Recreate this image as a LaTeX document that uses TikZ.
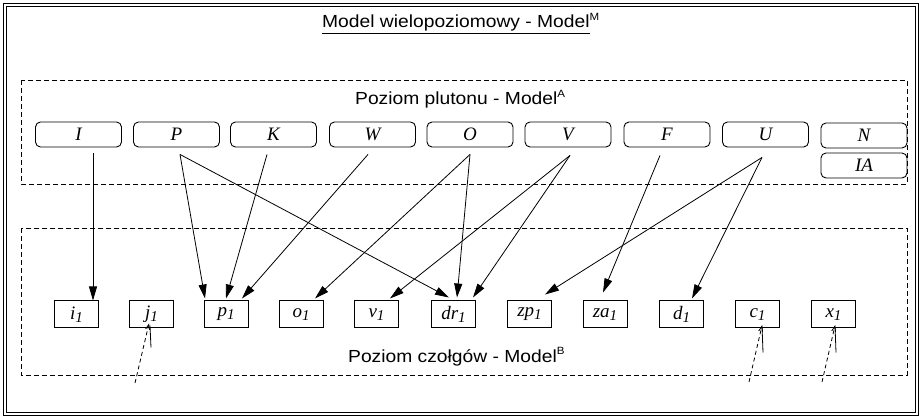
\documentclass[tikz,border=0pt]{standalone}
\usepackage{fontspec}
\setmainfont{Liberation Serif}
\newfontfamily\labelsans[FakeStretch=1.1]{Liberation Sans}
\usetikzlibrary{arrows.meta,calc}

% level/model captions and element labels
\newcommand\lvlsup[1]{\raisebox{7pt}{\fontsize{10.5}{10}\selectfont #1}}
\newcommand\lowone[1]{#1\raisebox{-2.5pt}{\fontsize{15}{15}\selectfont 1}}

\begin{document}
\begin{tikzpicture}[x=1pt,y=-1pt,
  topbox/.style={draw, rounded corners=5pt, minimum width=86pt, minimum height=25pt,
    inner sep=0pt, line width=0.9pt, font=\fontsize{19}{20}\selectfont\itshape},
  lowbox/.style={draw, minimum width=44pt, minimum height=27pt, inner sep=0pt,
    line width=1pt, font=\fontsize{19}{20}\selectfont\itshape},
  levelframe/.style={draw, dash pattern=on 5pt off 3pt, line width=0.9pt},
  caption/.style={inner sep=0pt, anchor=base west, font=\labelsans\fontsize{17.5}{20}\selectfont},
  arr/.style={-{Triangle[length=14pt,width=8pt]}, line width=0.8pt},
  ext/.style={dash pattern=on 4pt off 3pt, line width=0.8pt, -{Straight Barb[length=5pt,width=4pt]}},
  tick/.style={line width=0.8pt}]

\useasboundingbox (0,0) rectangle (923,419);

% outer frame of the multi-level model
\draw[double, double distance=1.6pt, line width=0.9pt] (5,5) rectangle (917,414);
\node[caption] (title) at (322,28) {\underline{Model wielopoziomowy - Model}\lvlsup{M}};

% platoon level
\draw[levelframe] (21,80) rectangle (907,184);
\node[caption] (lvlA) at (355,105) {Poziom plutonu - Model\lvlsup{A}};

\node[topbox] (I) at (78.5,134.5) {I};
\node[topbox] (P) at (176.5,134.5) {P};
\node[topbox] (K) at (273.5,134.5) {K};
\node[topbox] (W) at (372.5,134.5) {W};
\node[topbox] (O) at (470,134.5) {O};
\node[topbox] (V) at (568,134.5) {V};
\node[topbox] (F) at (667,134.5) {F};
\node[topbox] (U) at (765.5,134.5) {U};
\node[topbox] (N) at (864,135.5) {N};
\node[topbox] (IA) at (864,165.5) {IA};

% tank level
\draw[levelframe] (21,228) rectangle (907,375);
\node[caption] (lvlB) at (348,362) {Poziom czołgów - Model\lvlsup{B}};

\node[lowbox] (i1) at (76.5,314.5) {\lowone{i}};
\node[lowbox] (j1) at (151.5,314.5) {\lowone{j}};
\node[lowbox] (p1) at (226,314.5) {\lowone{p}};
\node[lowbox] (o1) at (301,314.5) {\lowone{o}};
\node[lowbox] (v1) at (376.5,314.5) {\lowone{v}};
\node[lowbox] (dr1) at (453.5,314.5) {\lowone{dr}};
\node[lowbox] (zp1) at (529.5,314.5) {\lowone{zp}};
\node[lowbox] (za1) at (605,314.5) {\lowone{za}};
\node[lowbox] (d1) at (681.5,314.5) {\lowone{d}};
\node[lowbox] (c1) at (757.5,314.5) {\lowone{c}};
\node[lowbox] (x1) at (833.5,314.5) {\lowone{x}};

% mappings from platoon elements to tank elements
\draw[arr] ($(I.south)+(14.5,6)$) -- ($(i1.north)+(16.5,0)$);
\draw[arr] ($(P.south)+(3.5,7)$) -- ($(p1.north)+(-21,-2)$);
\draw[arr] ($(P.south)+(3.5,7)$) -- ($(dr1.north)+(-4.5,-3)$);
\draw[arr] ($(K.south)+(-6.5,7)$) -- ($(p1.north)+(0,-2)$);
\draw[arr] ($(W.south)+(-4.5,7)$) -- ($(p1.north)+(16,-2)$);
\draw[arr] ($(O.south)+(0,7)$) -- ($(o1.north)+(14,-2)$);
\draw[arr] ($(O.south)+(0,7)$) -- ($(dr1.north)+(3.5,-3)$);
\draw[arr] ($(V.south)+(2,8)$) -- ($(v1.north)+(13.5,-2)$);
\draw[arr] ($(V.south)+(2,8)$) -- ($(dr1.north)+(19.5,-3)$);
\draw[arr] ($(F.south)+(-7,8)$) -- ($(za1.north)+(-2,-8)$);
\draw[arr] ($(U.south)+(-3.5,10)$) -- ($(zp1.north)+(15.5,-6)$);
\draw[arr] ($(U.south)+(-3.5,10)$) -- ($(d1.north)+(10.5,-2)$);

% external inputs entering from below
\coordinate (jin) at (135,383);
\coordinate (cin) at (749,382);
\coordinate (xin) at (822,382);
\draw[ext] (jin) -- ($(j1.south)+(-2.5,-5)$);
\draw[tick] ($(j1.south)+(-1.5,-3)$) -- ($(j1.south)+(-0.5,19)$);
\draw[ext] (cin) -- ($(c1.south)+(4.5,-3)$);
\draw[tick] ($(c1.south)+(4.5,-3)$) -- ($(c1.south)+(5.5,24)$);
\draw[ext] (xin) -- ($(x1.south)+(1.5,-3)$);
\draw[tick] ($(x1.south)+(1.5,-3)$) -- ($(x1.south)+(2.5,24)$);
\end{tikzpicture}
\end{document}
